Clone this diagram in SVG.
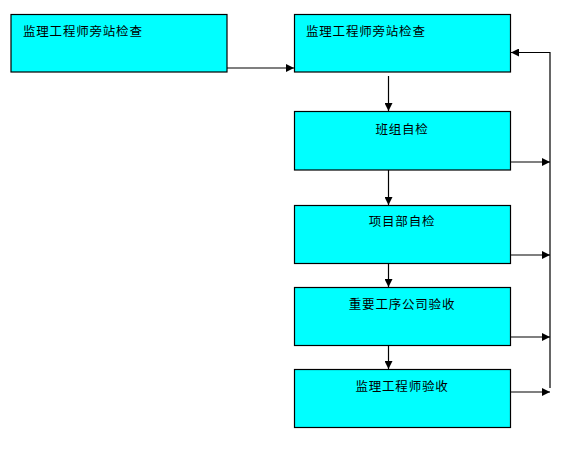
<svg xmlns="http://www.w3.org/2000/svg" width="581" height="452" viewBox="0 0 581 452">
<style>
.box{fill:#00ffff;stroke:#000;stroke-width:1.2}
.t{font-family:"Noto Sans CJK SC","Liberation Sans",sans-serif;font-size:12.5px;fill:#000;letter-spacing:0.8px}
.c{text-anchor:middle}
.ln{fill:none;stroke:#000;stroke-width:1.2}
</style>
<defs>
<marker id="ah" viewBox="0 0 10 10" refX="10" refY="5" markerWidth="9" markerHeight="8" markerUnits="userSpaceOnUse" orient="auto">
<path d="M0,0 L10,5 L0,10 Z" fill="#000"/>
</marker>
</defs>
<rect width="581" height="452" fill="#fff"/>
<g id="n1"><rect class="box" x="11" y="14.5" width="216" height="57.5"/><text class="t" x="23" y="36">监理工程师旁站检查</text></g>
<g id="n2"><rect class="box" x="294.5" y="14.5" width="216" height="57.5"/><text class="t" x="306" y="36">监理工程师旁站检查</text></g>
<g id="n3"><rect class="box" x="294.5" y="111.5" width="216" height="58.5"/><text class="t c" x="402" y="134">班组自检</text></g>
<g id="n4"><rect class="box" x="294.5" y="205.5" width="216" height="58"/><text class="t c" x="402" y="226">项目部自检</text></g>
<g id="n5"><rect class="box" x="294.5" y="287.5" width="216" height="58"/><text class="t c" x="402" y="309">重要工序公司验收</text></g>
<g id="n6"><rect class="box" x="294.5" y="369.5" width="216" height="58"/><text class="t c" x="402" y="391">监理工程师验收</text></g>
<g id="connectors">
<line class="ln" x1="227" y1="68" x2="294" y2="68" marker-end="url(#ah)"/>
<line class="ln" x1="388.5" y1="76" x2="388.5" y2="111" marker-end="url(#ah)"/>
<line class="ln" x1="388.5" y1="170" x2="388.5" y2="205" marker-end="url(#ah)"/>
<line class="ln" x1="388.5" y1="264" x2="388.5" y2="287" marker-end="url(#ah)"/>
<line class="ln" x1="388.5" y1="346" x2="388.5" y2="369" marker-end="url(#ah)"/>
<line class="ln" x1="510.5" y1="162" x2="550" y2="162" marker-end="url(#ah)"/>
<line class="ln" x1="510.5" y1="255" x2="550" y2="255" marker-end="url(#ah)"/>
<line class="ln" x1="510.5" y1="337" x2="550" y2="337" marker-end="url(#ah)"/>
<line class="ln" x1="510.5" y1="392" x2="550" y2="392" marker-end="url(#ah)"/>
<polyline class="ln" points="550,388 550,52.5 511,52.5" marker-end="url(#ah)"/>
</g>
</svg>
